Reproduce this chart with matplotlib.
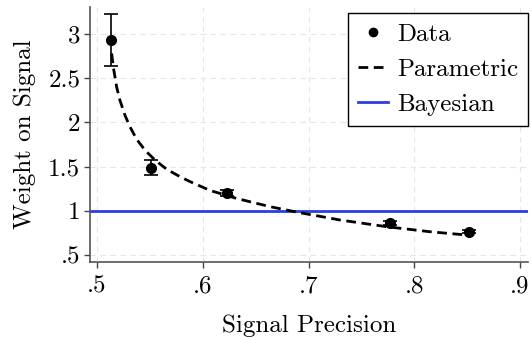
import matplotlib
matplotlib.use("Agg")
import matplotlib.pyplot as plt
from matplotlib.lines import Line2D

plt.rcParams['font.family'] = ['cmr10', 'DejaVu Serif']
plt.rcParams['mathtext.fontset'] = 'cm'
plt.rcParams['axes.unicode_minus'] = False

# Data points
precision = [0.513, 0.551, 0.623, 0.777, 0.852]
weight = [2.93, 1.48, 1.20, 0.857, 0.765]
err_lo = [2.64, 1.40, 1.17, 0.835, 0.745]
err_hi = [3.23, 1.57, 1.23, 0.88, 0.785]

# Parametric fit curve
fit_x = [0.5139, 0.5154, 0.5186, 0.5217, 0.5265, 0.5312, 0.5375, 0.5454,
         0.5548, 0.5659, 0.5785, 0.588, 0.607, 0.632, 0.6636, 0.689,
         0.7298, 0.774, 0.815, 0.8496]
fit_y = [2.78, 2.63, 2.40, 2.25, 2.08, 1.95, 1.81, 1.685,
         1.575, 1.47, 1.386, 1.33, 1.23, 1.14, 1.047, 0.985,
         0.896, 0.82, 0.763, 0.726]

bayes_y = 1.0

xticks = [0.5, 0.6, 0.7, 0.8, 0.9]
xticklabels = ['.5', '.6', '.7', '.8', '.9']
yticks = [0.5, 1, 1.5, 2, 2.5, 3]
yticklabels = ['.5', '1', '1.5', '2', '2.5', '3']

fig = plt.figure(figsize=(5.31, 3.37), dpi=100)
ax = fig.add_axes([0.1695, 0.2226, 0.825, 0.7564])

ax.grid(True, color='#e6e6e6', linestyle=(0, (5, 4)), linewidth=0.8)
ax.set_axisbelow(True)

ax.axhline(bayes_y, color='#2b3fe0', linewidth=2, label='Bayesian', zorder=2)
ax.plot(fit_x, fit_y, color='black', linestyle=(0, (3.5, 2)), linewidth=2,
        label='Parametric', zorder=3)
yerr = [[w - l for w, l in zip(weight, err_lo)], [h - w for w, h in zip(weight, err_hi)]]
ax.errorbar(precision, weight, yerr=yerr, fmt='o', color='black', markersize=7,
            capsize=5, elinewidth=1.2, capthick=1.2, label='Data', zorder=4)

ax.set_xlim(0.4934, 0.9076)
ax.set_ylim(0.421, 3.305)
ax.set_xticks(xticks)
ax.set_xticklabels(xticklabels)
ax.set_yticks(yticks)
ax.set_yticklabels(yticklabels)
ax.tick_params(labelsize=18, color='#444444', length=4, width=1)
ax.tick_params(axis='x', pad=6)
ax.tick_params(axis='y', pad=3)

for s in ['top', 'right']:
    ax.spines[s].set_visible(False)
for s in ['left', 'bottom']:
    ax.spines[s].set_color('#555555')
    ax.spines[s].set_linewidth(1.2)

ax.set_xlabel('Signal Precision', fontsize=18, labelpad=12)
ax.set_ylabel('Weight on Signal', fontsize=18, labelpad=9)

handles, labels = ax.get_legend_handles_labels()
h_data = Line2D([], [], marker='o', color='black', linestyle='none', markersize=6)
leg = ax.legend([h_data, handles[labels.index('Parametric')], handles[labels.index('Bayesian')]],
                ['Data', 'Parametric', 'Bayesian'],
                loc='upper right', fontsize=18, frameon=True, fancybox=False,
                edgecolor='black', framealpha=1, handlelength=1.2,
                borderpad=0.4, labelspacing=0.5, handletextpad=0.35,
                borderaxespad=0.0, bbox_to_anchor=(1.0, 0.976))
leg.get_frame().set_linewidth(1.0)

fig.savefig('out.png', dpi=100)
